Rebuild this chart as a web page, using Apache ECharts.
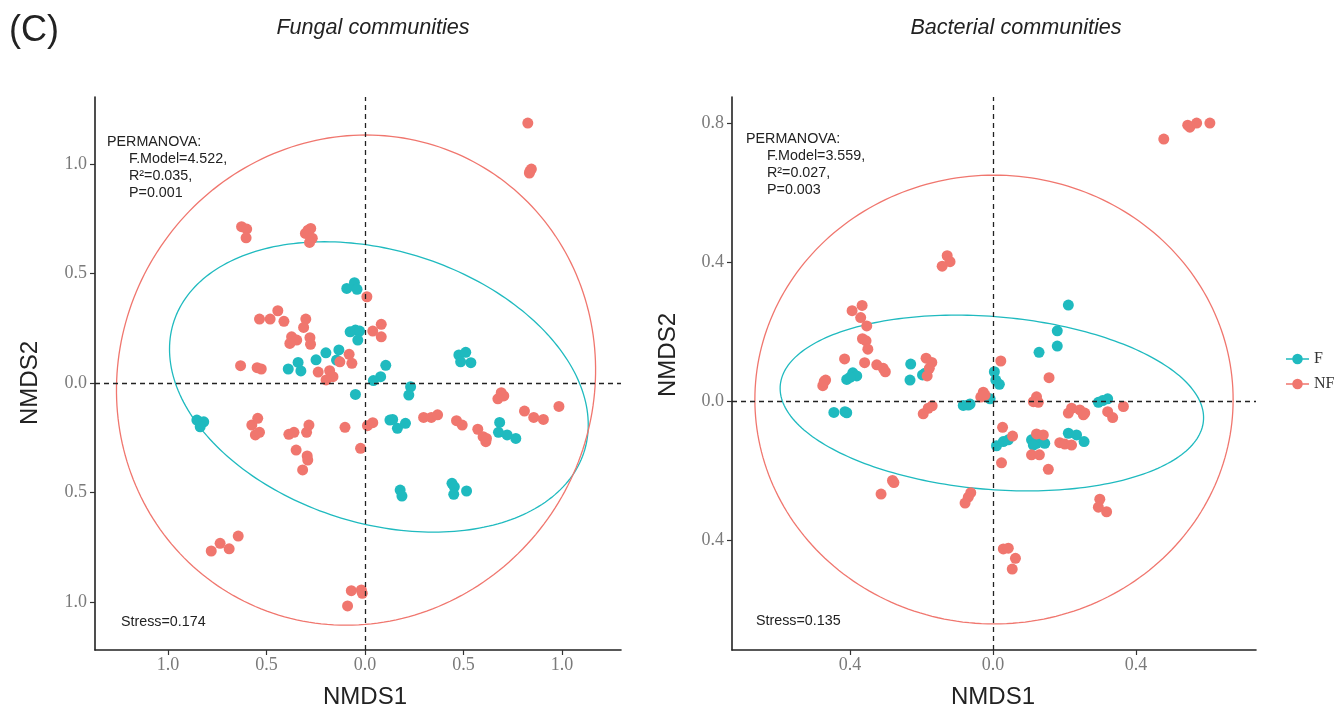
<!DOCTYPE html>
<html>
<head>
<meta charset="utf-8">
<script src="https://cdn.jsdelivr.net/npm/echarts@6/dist/echarts.min.js"></script>
<style>
html,body{margin:0;padding:0;background:#fff;}
#chart{width:1338px;height:711px;}
</style>
</head>
<body>
<div id="chart"></div>
<script>
// ---------- data ----------
const groups = ['F', 'NF'];
const panelTitles = ['Fungal communities', 'Bacterial communities'];

const fungalF = [
 [-0.092,0.432],[-0.053,0.458],[-0.040,0.428],
 [-0.075,0.234],[-0.048,0.242],[-0.027,0.237],[-0.036,0.196],
 [-0.132,0.151],[-0.198,0.138],[-0.248,0.106],[-0.144,0.105],[-0.389,0.064],[-0.339,0.094],[-0.325,0.055],
 [0.106,0.081],[0.080,0.029],[0.043,0.011],
 [-0.048,-0.052],
 [0.232,-0.017],[0.223,-0.055],
 [0.477,0.128],[0.512,0.140],[0.486,0.097],[0.538,0.093],
 [-0.853,-0.169],[-0.818,-0.177],[-0.836,-0.200],
 [0.127,-0.169],[0.141,-0.166],[0.165,-0.207],[0.206,-0.184],
 [0.684,-0.180],[0.678,-0.225],[0.722,-0.237],[0.766,-0.253],
 [0.179,-0.489],[0.188,-0.516],[0.442,-0.458],[0.454,-0.474],[0.451,-0.508],[0.516,-0.493]
];
const fungalNF = [
 [-0.626,0.714],[-0.600,0.703],[-0.603,0.663],
 [-0.289,0.698],[-0.275,0.706],[-0.302,0.683],[-0.267,0.661],[-0.281,0.642],
 [0.010,0.394],
 [-0.535,0.292],[-0.481,0.292],[-0.442,0.330],[-0.411,0.282],[-0.300,0.292],[-0.311,0.254],
 [-0.372,0.211],[-0.346,0.196],[-0.381,0.181],[-0.279,0.207],[-0.276,0.177],
 [0.040,0.237],[0.083,0.268],[0.083,0.211],
 [-0.631,0.079],[-0.547,0.070],[-0.526,0.064],
 [-0.237,0.050],[-0.179,0.056],[-0.162,0.029],[-0.197,0.014],[-0.080,0.131],[-0.066,0.090],[-0.127,0.097],
 [0.692,-0.044],[0.705,-0.059],[0.675,-0.072],
 [0.985,-0.107],
 [0.810,-0.128],[0.857,-0.157],[0.906,-0.166],
 [-0.574,-0.192],[-0.544,-0.161],[-0.556,-0.237],[-0.535,-0.225],
 [-0.386,-0.234],[-0.360,-0.225],[-0.296,-0.225],[-0.284,-0.192],
 [-0.349,-0.306],[-0.293,-0.333],[-0.290,-0.352],[-0.316,-0.397],
 [-0.101,-0.202],[-0.022,-0.298],[0.013,-0.195],[0.040,-0.181],
 [0.298,-0.157],[0.337,-0.157],[0.369,-0.145],
 [0.465,-0.172],[0.494,-0.192],[0.573,-0.211],[0.600,-0.245],[0.614,-0.268],[0.617,-0.253],
 [-0.780,-0.767],[-0.735,-0.732],[-0.689,-0.757],[-0.643,-0.699],
 [-0.069,-0.948],[-0.018,-0.945],[-0.013,-0.960],[-0.088,-1.018],
 [0.827,1.187],[0.838,0.968],[0.845,0.977],[0.835,0.959]
];
const bacterialF = [
 [0.211,0.276],[0.180,0.202],[0.180,0.158],[0.129,0.140],
 [-0.230,0.106],[-0.232,0.060],[-0.197,0.075],[-0.190,0.080],
 [-0.392,0.081],[-0.381,0.072],[-0.409,0.062],[-0.400,0.068],
 [-0.445,-0.033],[-0.414,-0.031],[-0.409,-0.034],
 [0.004,0.084],[0.008,0.060],[0.018,0.048],[-0.008,0.006],
 [-0.083,-0.013],[-0.069,-0.012],[-0.064,-0.009],
 [0.295,-0.004],[0.307,0.001],[0.321,0.006],
 [0.010,-0.129],[0.029,-0.117],[0.043,-0.112],
 [0.108,-0.112],[0.122,-0.122],[0.136,-0.107],[0.145,-0.122],[0.113,-0.127],
 [0.211,-0.093],[0.234,-0.098],[0.255,-0.117]
];
const bacterialNF = [
 [0.478,0.754],[0.545,0.794],[0.551,0.788],[0.570,0.800],[0.607,0.800],
 [-0.128,0.418],[-0.120,0.401],[-0.142,0.388],
 [-0.366,0.275],[-0.394,0.260],[-0.370,0.240],[-0.353,0.216],
 [-0.365,0.179],[-0.355,0.173],[-0.350,0.149],
 [-0.415,0.121],[-0.359,0.110],[-0.325,0.104],[-0.307,0.094],[-0.301,0.084],
 [-0.468,0.060],[-0.476,0.044],[-0.472,0.056],
 [-0.187,0.123],[-0.171,0.111],[-0.178,0.094],[-0.184,0.072],
 [0.022,0.115],[0.157,0.067],
 [-0.027,0.025],[-0.034,0.011],[-0.022,0.017],
 [0.122,0.012],[0.113,-0.002],[0.127,-0.004],
 [-0.170,-0.014],[-0.181,-0.021],[-0.195,-0.037],
 [0.220,-0.021],[0.211,-0.035],[0.243,-0.026],[0.253,-0.040],[0.257,-0.035],
 [0.321,-0.031],[0.335,-0.048],[0.365,-0.016],
 [0.027,-0.076],[0.055,-0.101],
 [0.122,-0.095],[0.141,-0.098],
 [0.187,-0.120],[0.201,-0.124],[0.220,-0.127],
 [0.108,-0.155],[0.130,-0.155],
 [0.024,-0.178],[0.155,-0.197],
 [-0.281,-0.229],[-0.277,-0.235],[-0.313,-0.268],
 [-0.062,-0.264],[-0.069,-0.277],[-0.078,-0.294],
 [0.299,-0.283],[0.295,-0.306],[0.318,-0.319],
 [0.029,-0.426],[0.043,-0.424],[0.063,-0.453],[0.054,-0.484]
];

// confidence ellipses: [centerX, centerY, horizontal semi-diameter, conjugate semi-diameter x, conjugate semi-diameter y]
const fungalEllipseF = [0.071, -0.018, 1.026, -0.277, 0.663];
const fungalEllipseNF = [-0.045, 0.0135, 1.215, 0.050, 1.119];
const bacterialEllipseF = [-0.003, -0.006, 0.584, -0.099, 0.253];
const bacterialEllipseNF = [0.003, 0.004, 0.669, 0.0, 0.646];

// axis extents and tick values
const fungalXRange = [-1.37, 1.30];
const fungalYRange = [-1.219, 1.306];
const bacterialXRange = [-0.730, 0.736];
const bacterialYRange = [-0.717, 0.875];
const fungalXTicks = [-1.0, -0.5, 0.0, 0.5, 1.0];
const fungalYTicks = [-1.0, -0.5, 0.0, 0.5, 1.0];
const bacterialXTicks = [-0.4, 0.0, 0.4];
const bacterialYTicks = [-0.4, 0.0, 0.4, 0.8];

const fungalStats = ['PERMANOVA:', 'F.Model=4.522,', 'R\u00B2=0.035,', 'P=0.001', 'Stress=0.174'];
const bacterialStats = ['PERMANOVA:', 'F.Model=3.559,', 'R\u00B2=0.027,', 'P=0.003', 'Stress=0.135'];

// ---------- styling ----------
const colF = '#1FBABF';
const colNF = '#F0766E';
const serif = '"Liberation Serif", "DejaVu Serif", serif';
const sans = '"Liberation Sans", Arial, sans-serif';

function fmt(v){ return Math.abs(v).toFixed(1); }

function makeAxis(type, gridIndex, range, ticks){
  return {
    type: 'value', gridIndex: gridIndex, min: range[0], max: range[1],
    axisLine: {show: true, onZero: false, lineStyle: {color: '#222', width: 1.6}},
    axisTick: {show: true, customValues: ticks, length: 5, lineStyle: {color: '#333', width: 1.2}},
    axisLabel: {show: true, customValues: ticks, formatter: fmt, color: '#7a7a7a',
      fontFamily: serif, fontSize: 18, margin: type === 'x' ? 6 : 8},
    splitLine: {show: false}
  };
}

function ellipseSeries(p, idx, color){
  return {
    type: 'custom', xAxisIndex: idx, yAxisIndex: idx, silent: true, z: 2,
    data: [[p[0], p[1]]],
    renderItem: function(params, api){
      const pts = [];
      const N = 240;
      for (let i = 0; i <= N; i++){
        const t = 2 * Math.PI * i / N;
        const x = p[0] + p[2] * Math.cos(t) + p[3] * Math.sin(t);
        const y = p[1] + p[4] * Math.sin(t);
        pts.push(api.coord([x, y]));
      }
      return {type: 'polyline', shape: {points: pts}, style: {stroke: color, fill: null, lineWidth: 1.3}};
    }
  };
}

function scatterSeries(name, data, idx, color, withLines){
  const s = {
    type: 'scatter', name: name, xAxisIndex: idx, yAxisIndex: idx, data: data,
    symbol: 'circle', symbolSize: 11, z: 3,
    itemStyle: {color: color, opacity: 1},
    emphasis: {disabled: true}
  };
  if (withLines){
    s.markLine = {
      silent: true, symbol: 'none', label: {show: false}, animation: false,
      lineStyle: {color: '#222', type: [5, 4], width: 1.3},
      data: [{xAxis: 0}, {yAxis: 0}]
    };
  }
  return s;
}

function textEl(x, y, text, font, opts){
  opts = opts || {};
  return {
    type: 'text', x: x, y: y, rotation: opts.rotation || 0, silent: true,
    style: {text: text, font: font, fill: opts.fill || '#222',
      textAlign: opts.align || 'left', textVerticalAlign: 'middle'}
  };
}

const statFont = '14.3px ' + sans;
const legendIcon = 'path://M0,4.3 L24,4.3 L24,5.7 L0,5.7 Z M6.5,5 A5.5,5.5 0 1 1 17.5,5 A5.5,5.5 0 1 1 6.5,5 Z';

const option = {
  backgroundColor: '#ffffff',
  animation: false,
  grid: [
    {left: 95, top: 97, width: 526, height: 553},
    {left: 732, top: 97, width: 524, height: 553}
  ],
  xAxis: [
    makeAxis('x', 0, fungalXRange, fungalXTicks),
    makeAxis('x', 1, bacterialXRange, bacterialXTicks)
  ],
  yAxis: [
    makeAxis('y', 0, fungalYRange, fungalYTicks),
    makeAxis('y', 1, bacterialYRange, bacterialYTicks)
  ],
  legend: {
    orient: 'vertical', left: 1286, top: 351, padding: 0,
    itemWidth: 23, itemHeight: 11, itemGap: 9,
    textStyle: {fontFamily: serif, fontSize: 16, color: '#333'},
    data: groups.map(g => ({name: g, icon: legendIcon})),
    selectedMode: false
  },
  series: [
    ellipseSeries(fungalEllipseF, 0, colF),
    ellipseSeries(fungalEllipseNF, 0, colNF),
    scatterSeries(groups[0], fungalF, 0, colF, true),
    scatterSeries(groups[1], fungalNF, 0, colNF, false),
    ellipseSeries(bacterialEllipseF, 1, colF),
    ellipseSeries(bacterialEllipseNF, 1, colNF),
    scatterSeries(groups[0], bacterialF, 1, colF, true),
    scatterSeries(groups[1], bacterialNF, 1, colNF, false)
  ],
  graphic: [
    textEl(9, 31, '(C)', '36px ' + sans),
    textEl(373, 28, panelTitles[0], 'italic 21.6px ' + sans, {align: 'center'}),
    textEl(1016, 28, panelTitles[1], 'italic 21.6px ' + sans, {align: 'center'}),
    textEl(365, 697, 'NMDS1', '24px ' + sans, {align: 'center'}),
    textEl(993, 697, 'NMDS1', '24px ' + sans, {align: 'center'}),
    textEl(30, 383, 'NMDS2', '24px ' + sans, {align: 'center', rotation: Math.PI / 2}),
    textEl(668, 355, 'NMDS2', '24px ' + sans, {align: 'center', rotation: Math.PI / 2}),
    textEl(107, 142, fungalStats[0], statFont),
    textEl(129, 159, fungalStats[1], statFont),
    textEl(129, 176, fungalStats[2], statFont),
    textEl(129, 193, fungalStats[3], statFont),
    textEl(121, 622, fungalStats[4], statFont),
    textEl(746, 139, bacterialStats[0], statFont),
    textEl(767, 156, bacterialStats[1], statFont),
    textEl(767, 173, bacterialStats[2], statFont),
    textEl(767, 190, bacterialStats[3], statFont),
    textEl(756, 621, bacterialStats[4], statFont)
  ]
};

const chart = echarts.init(document.getElementById('chart'), null, {renderer: 'canvas'});
chart.setOption(option);
</script>
</body>
</html>
